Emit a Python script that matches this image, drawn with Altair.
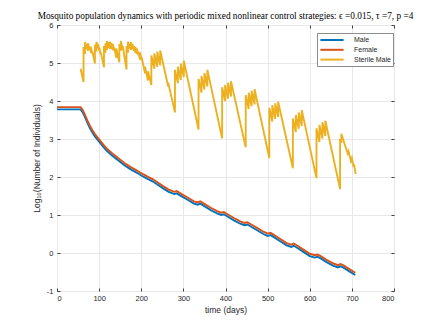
import altair as alt
import pandas as pd

# ---- data ----
series_names = ["Male", "Female", "Sterile Male"]
series_colors = ["#0072BD", "#D95319", "#EDB120"]

time_wild = [0, 56, 60, 66, 72, 78, 84, 90, 100, 110, 118, 130, 145, 160, 175, 190, 200, 215, 228,
             240, 252, 265, 276, 279, 284, 290, 310, 325, 334, 340, 346, 365, 380, 390, 396, 402,
             420, 435, 445, 452, 458, 475, 490, 500, 507, 513, 530, 545, 556, 562, 568, 585, 600,
             612, 618, 624, 640, 655, 667, 673, 679, 695, 708]
male_log = [3.78, 3.78, 3.72, 3.59, 3.43, 3.29, 3.17, 3.07, 2.93, 2.79, 2.69, 2.57, 2.44, 2.31, 2.20,
            2.11, 2.04, 1.95, 1.88, 1.79, 1.70, 1.61, 1.56, 1.55, 1.57, 1.53, 1.40, 1.30, 1.27, 1.30,
            1.26, 1.13, 1.04, 1.00, 1.02, 0.98, 0.86, 0.77, 0.73, 0.75, 0.71, 0.60, 0.50, 0.45, 0.47,
            0.43, 0.31, 0.20, 0.16, 0.19, 0.15, 0.03, -0.08, -0.12, -0.10, -0.13, -0.24, -0.33, -0.38,
            -0.35, -0.38, -0.49, -0.58]
female_log = [3.84, 3.84, 3.78, 3.65, 3.49, 3.35, 3.23, 3.13, 2.99, 2.85, 2.75, 2.63, 2.50, 2.37, 2.26,
              2.17, 2.10, 2.01, 1.94, 1.85, 1.76, 1.67, 1.62, 1.61, 1.63, 1.59, 1.46, 1.36, 1.33, 1.36,
              1.32, 1.19, 1.10, 1.06, 1.08, 1.04, 0.92, 0.83, 0.79, 0.81, 0.77, 0.66, 0.56, 0.51, 0.53,
              0.49, 0.37, 0.26, 0.22, 0.25, 0.21, 0.09, -0.02, -0.06, -0.04, -0.07, -0.18, -0.27, -0.32,
              -0.29, -0.32, -0.43, -0.52]

sterile_time = [56, 63, 63, 66.5, 66.5, 70, 70, 73.5, 73.5, 77, 77, 80.5, 80.5, 84, 84, 90, 90,
                93.5, 93.5, 97, 97, 100.5, 100.5, 104, 104, 111.5, 111.5, 115, 115, 118.5, 118.5,
                122, 122, 125.5, 125.5, 129, 129, 132.5, 132.5, 136, 136, 141, 141, 148, 148,
                151.5, 151.5, 156, 156, 165, 165, 168.5, 168.5, 172, 172, 175.5, 175.5, 179, 179,
                182.5, 182.5, 186, 186, 189.5, 189.5, 193, 193, 197, 197, 201, 201, 209, 209,
                216, 216, 224, 224, 231, 231, 238, 238, 245, 245, 264, 264, 280, 280,
                287, 287, 294, 294, 301, 301, 336, 336, 343, 343, 350, 350, 357, 357,
                392, 392, 399, 399, 406, 406, 413, 413, 448, 448, 455, 455, 462, 462, 469, 469,
                504, 504, 511, 511, 518, 518, 525, 525, 560, 560, 567, 567, 574, 574, 581, 581,
                616, 616, 623, 623, 630, 630, 637, 637, 672, 672, 675, 675, 690, 692, 698, 700,
                704, 705, 709]
sterile_log = [4.85, 4.50, 5.42, 5.24, 5.55, 5.37, 5.50, 5.32, 5.52, 5.34, 5.45, 5.27, 5.42, 5.24, 5.30,
               4.99, 5.48, 5.30, 5.56, 5.38, 5.50, 5.32, 5.40, 5.22, 5.28, 4.89, 5.45, 5.27, 5.52,
               5.34, 5.58, 5.40, 5.55, 5.37, 5.56, 5.38, 5.52, 5.34, 5.50, 5.32, 5.40, 5.14, 5.38,
               5.02, 5.50, 5.32, 5.58, 5.35, 5.45, 4.83, 5.45, 5.27, 5.56, 5.38, 5.52, 5.34, 5.55,
               5.37, 5.50, 5.32, 5.45, 5.27, 5.42, 5.24, 5.38, 5.20, 5.30, 5.09, 5.28, 5.07, 5.15,
               4.73, 4.90, 4.54, 4.78, 4.42, 5.20, 4.85, 5.25, 4.90, 5.30, 4.94, 5.33, 4.38, 4.48,
               3.70, 4.82, 4.47, 4.90, 4.55, 4.98, 4.63, 5.06, 3.25, 4.58, 4.22, 4.66, 4.30, 4.74,
               4.38, 4.82, 3.02, 4.36, 4.00, 4.42, 4.06, 4.48, 4.12, 4.52, 2.78, 4.15, 3.79, 4.22,
               3.86, 4.27, 3.91, 4.31, 2.50, 3.82, 3.46, 3.89, 3.53, 3.94, 3.58, 3.98, 2.23, 3.54,
               3.18, 3.63, 3.27, 3.70, 3.34, 3.76, 1.97, 3.28, 2.92, 3.37, 3.01, 3.44, 3.08, 3.48,
               1.68, 3.00, 2.90, 3.14, 2.62, 2.68, 2.42, 2.49, 2.27, 2.33, 2.08]

x_ticks = [0, 100, 200, 300, 400, 500, 600, 700, 800]
y_ticks = [-1, 0, 1, 2, 3, 4, 5, 6]

title_text = ("Mosquito population dynamics with periodic mixed nonlinear control strategies: "
              "\u03f5 =0.015, \u03c4 =7, p =4")

# ---- table ----
rows = []
idx = 0
for name, ts, vs in [("Male", time_wild, male_log),
                     ("Female", time_wild, female_log),
                     ("Sterile Male", sterile_time, sterile_log)]:
    for t, v in zip(ts, vs):
        rows.append({"t": t, "v": v, "series": name, "idx": idx})
        idx += 1
df = pd.DataFrame(rows)

xscale = alt.Scale(domain=[0, 800], nice=False, zero=False)
yscale = alt.Scale(domain=[-1, 6], nice=False, zero=False)

lines = alt.Chart(df).mark_line(strokeWidth=1.9).encode(
    x=alt.X("t:Q", scale=xscale,
            axis=alt.Axis(orient="bottom", values=x_ticks, title="time (days)", grid=True,
                          domain=False, ticks=True, tickSize=3, offset=-3, labelPadding=3,
                          titlePadding=4, labelExpr="datum.value")),
    y=alt.Y("v:Q", scale=yscale,
            axis=alt.Axis(orient="left", values=y_ticks, title="Log\u2081\u2080(Number of Individuals)",
                          grid=True, domain=False, ticks=True, tickSize=3, offset=-3,
                          labelPadding=4, titleX=-19, titleY=133, labelExpr="datum.value")),
    color=alt.Color("series:N", scale=alt.Scale(domain=series_names, range=series_colors),
                    legend=alt.Legend(title=None, orient="none", legendX=260, legendY=8,
                                      symbolType="M-2.9,0H2.9", symbolSize=64, symbolStrokeWidth=2,
                                      symbolFillColor="transparent", symbolOffset=8,
                                      labelFont="Liberation Sans", labelFontSize=7,
                                      labelColor="#262626", labelOffset=17,
                                      fillColor="white", strokeColor="#8c8c8c", padding=2,
                                      rowPadding=0.8)),
    order=alt.Order("idx:Q"),
)

frame = alt.Chart(df).mark_line(opacity=0).encode(
    x=alt.X("t:Q", scale=xscale,
            axis=alt.Axis(orient="top", values=x_ticks, labels=False, title="", grid=False,
                          domain=False, ticks=True, tickSize=3, offset=-3)),
    y=alt.Y("v:Q", scale=yscale,
            axis=alt.Axis(orient="right", values=y_ticks, labels=False, title="", grid=False,
                          domain=False, ticks=True, tickSize=3, offset=-3)),
    detail="series:N",
    order=alt.Order("idx:Q"),
)

chart = alt.layer(lines, frame).properties(
    width=337, height=266,
    title=alt.TitleParams(text=title_text, font="Liberation Serif", fontSize=9.3,
                          fontWeight="normal", color="black", anchor="middle", offset=0),
    padding={"left": 49, "top": 17, "right": 34, "bottom": 28},
    autosize=alt.AutoSizeParams(type="none"),
).configure_view(
    stroke="#666666", strokeWidth=1
).configure_axis(
    labelFont="Liberation Sans", labelFontSize=7.5, labelColor="#262626",
    titleFont="Liberation Sans", titleFontSize=8.5, titleColor="#262626",
    titleFontWeight="normal", tickColor="#404040", gridColor="#e8e8e8", gridWidth=1
)

chart.save("out.html", embed_options={"renderer": "svg", "actions": False})
